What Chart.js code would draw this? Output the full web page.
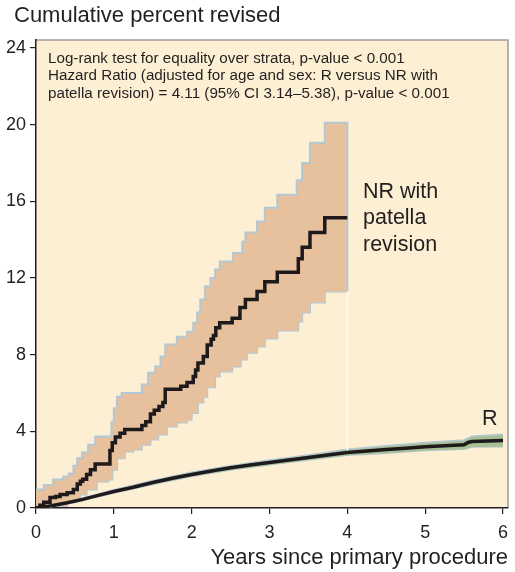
<!DOCTYPE html>
<html>
<head>
<meta charset="utf-8">
<script src="https://cdn.jsdelivr.net/npm/chart.js@4.4.1/dist/chart.umd.min.js"></script>
<style>
  body { margin: 0; background: #ffffff; }
  canvas { display: block; }
</style>
</head>
<body>
<canvas id="grafico" width="515" height="572"></canvas>
<script>
// Valores (años, porcentaje acumulado)
const xTicks = [0, 1, 2, 3, 4, 5, 6];
const yTicks = [0, 4, 8, 12, 16, 20, 24];

const nrEstimate = [[0,0],[0.05,0.15],[0.1,0.3],[0.18,0.55],[0.25,0.6],[0.31,0.7],[0.4,0.8],[0.48,0.96],
  [0.53,1.25],[0.57,1.4],[0.6,1.5],[0.65,1.75],[0.7,2.0],[0.76,2.3],[0.95,3.0],[0.98,3.4],[1.02,3.7],
  [1.08,3.9],[1.14,4.09],[1.36,4.3],[1.41,4.5],[1.47,4.9],[1.52,5.1],[1.58,5.3],[1.63,5.5],[1.66,6.2],
  [1.86,6.35],[1.94,6.55],[2.02,6.86],[2.05,7.2],[2.08,7.57],[2.15,7.9],[2.2,8.5],[2.25,8.8],[2.28,9.0],
  [2.31,9.4],[2.36,9.67],[2.52,9.9],[2.62,10.46],[2.69,10.88],[2.84,11.3],[2.94,11.8],[3.10,12.3],
  [3.37,13.0],[3.42,13.6],[3.52,14.37],[3.71,15.15],[4.0,15.15]];

const nrUpper = [[0,0.96],[0.1,1.2],[0.22,1.49],[0.35,1.64],[0.42,1.8],[0.48,2.2],[0.53,2.6],[0.59,2.9],
  [0.67,3.3],[0.76,3.73],[0.97,4.5],[1.0,5.2],[1.04,5.8],[1.1,6.0],[1.36,6.44],[1.44,7.06],[1.53,7.38],
  [1.6,7.9],[1.66,8.53],[1.81,8.94],[1.94,9.2],[2.02,9.67],[2.07,10.2],[2.11,10.88],[2.17,11.56],
  [2.24,12.0],[2.30,12.44],[2.36,12.86],[2.53,13.3],[2.65,13.9],[2.69,14.37],[2.84,14.95],[2.94,15.67],
  [3.10,16.35],[3.35,17.1],[3.42,18.0],[3.52,19.06],[3.71,20.1],[4.0,20.1],[4.0,11.3]];

const nrLower = [[0,0],[0.2,0.1],[0.4,0.3],[0.5,0.5],[0.57,0.7],[0.65,0.96],[0.78,1.38],[0.93,1.49],
  [0.98,2.0],[1.04,2.6],[1.14,2.95],[1.25,3.05],[1.36,3.3],[1.47,3.57],[1.57,3.83],[1.68,4.25],[1.81,4.46],
  [1.94,4.6],[2.0,4.96],[2.08,5.5],[2.15,5.8],[2.2,6.3],[2.3,6.86],[2.36,7.12],[2.52,7.38],[2.63,7.75],
  [2.71,8.1],[2.84,8.43],[2.94,8.84],[3.10,9.26],[3.37,9.73],[3.42,10.2],[3.52,10.72],[3.71,11.3],[4.0,11.3]];

const rEstimate = [[0,0],[0.2,0.12],[0.4,0.27],[0.6,0.45],[0.8,0.66],[1,0.86],[1.25,1.08],[1.5,1.33],
  [1.75,1.55],[2,1.75],[2.25,1.93],[2.5,2.1],[2.75,2.24],[3,2.37],[3.25,2.5],[3.5,2.63],[3.75,2.77],
  [4,2.9],[4.25,2.98],[4.5,3.05],[4.75,3.12],[5,3.2],[5.25,3.25],[5.5,3.3],[5.55,3.42],[5.6,3.47],
  [5.8,3.5],[6,3.52]];

const rUpper = [[0,0],[0.5,0.4],[1,0.95],[1.5,1.43],[2,1.86],[2.5,2.2],[3,2.5],[3.5,2.77],[4,3.06],
  [4.5,3.25],[5,3.42],[5.5,3.55],[5.6,3.75],[6,3.85]];

const rLower = [[0,0],[0.5,0.28],[1,0.78],[1.5,1.23],[2,1.64],[2.5,1.98],[3,2.25],[3.5,2.5],[4,2.75],
  [4.5,2.86],[5,3.0],[5.5,3.07],[5.6,3.18],[6,3.2]];

const whiteMark = [[4.0,11.3],[4.0,2.9]];

const titleText = 'Cumulative percent revised';
const xTitle = 'Years since primary procedure';
const testLines = [
  'Log-rank test for equality over strata, p-value < 0.001',
  'Hazard Ratio (adjusted for age and sex: R versus NR with',
  'patella revision) = 4.11 (95% CI 3.14\u20135.38), p-value < 0.001'
];
const nrLabel = ['NR with', 'patella', 'revision'];
const rLabel = 'R';

const FONT = "'Liberation Sans', Arial, Helvetica, sans-serif";
const INK = '#231f20';

function puntos(arr) {
  return arr.map(p => ({ x: p[0], y: p[1] }));
}

// Fondo del área y borde gris arriba/derecha
const fondo = {
  id: 'fondo',
  beforeDraw(chart) {
    const { ctx, chartArea: a } = chart;
    ctx.save();
    ctx.fillStyle = '#fdefd3';
    ctx.fillRect(a.left, a.top, a.right - a.left, a.bottom - a.top);
    ctx.strokeStyle = '#9c9c9c';
    ctx.lineWidth = 1.5;
    ctx.beginPath();
    ctx.moveTo(a.left, a.top);
    ctx.lineTo(a.right, a.top);
    ctx.lineTo(a.right, a.bottom);
    ctx.stroke();
    ctx.restore();
  }
};

// Textos: título, prueba estadística y etiquetas de curvas
const textos = {
  id: 'textos',
  afterDraw(chart) {
    const ctx = chart.ctx;
    ctx.save();
    ctx.fillStyle = INK;
    ctx.textBaseline = 'middle';
    ctx.textAlign = 'left';
    ctx.font = '22px ' + FONT;
    ctx.fillText(titleText, 14, 16);
    ctx.font = '15.2px ' + FONT;
    testLines.forEach((t, i) => ctx.fillText(t, 48, 58.5 + i * 17.5));
    ctx.font = '21.5px ' + FONT;
    nrLabel.forEach((t, i) => ctx.fillText(t, 363, 192 + i * 26.5));
    ctx.fillText(rLabel, 482, 419);
    ctx.restore();
  }
};

new Chart(document.getElementById('grafico'), {
  type: 'line',
  data: {
    datasets: [
      { data: puntos(nrEstimate), stepped: true, borderColor: '#1e1a1b', borderWidth: 3.5, order: 1 },
      { data: puntos(rEstimate), borderColor: '#1e1a1b', borderWidth: 3.5, order: 1 },
      { data: puntos(whiteMark), borderColor: '#ffffff', borderWidth: 1.2, order: 2 },
      { data: puntos(nrUpper), stepped: true, borderColor: '#b4c8d4', borderWidth: 2,
        backgroundColor: '#e7c19d', fill: 4, order: 3 },
      { data: puntos(nrLower), stepped: true, borderColor: '#b4c8d4', borderWidth: 2, order: 3 },
      { data: puntos(rUpper), borderColor: '#b4c8d4', borderWidth: 1.5,
        backgroundColor: '#a8bf93', fill: 6, order: 4 },
      { data: puntos(rLower), borderColor: '#b4c8d4', borderWidth: 1.5, order: 4 }
    ]
  },
  options: {
    responsive: false,
    animation: false,
    devicePixelRatio: 1,
    elements: { point: { radius: 0, hoverRadius: 0 }, line: { tension: 0, fill: false } },
    layout: { padding: { top: 40, right: 7, left: 0, bottom: 0 } },
    plugins: { legend: { display: false }, tooltip: { enabled: false } },
    scales: {
      x: {
        type: 'linear', min: 0, max: 6.064,
        afterBuildTicks: s => { s.ticks = xTicks.map(v => ({ value: v })); },
        afterFit: s => { s.height = 64; s.paddingLeft = 0; s.paddingRight = 0; },
        ticks: { font: { size: 18, family: FONT }, color: INK, padding: 8, maxRotation: 0 },
        grid: { drawOnChartArea: false, drawTicks: true, tickLength: 6, color: INK, lineWidth: 1.2 },
        border: { display: true, color: INK, width: 1.5 },
        title: { display: true, text: xTitle, align: 'end', color: INK,
          font: { size: 22, family: FONT }, padding: { top: 0, bottom: 1 } }
      },
      y: {
        type: 'linear', min: 0, max: 24.42,
        afterBuildTicks: s => { s.ticks = yTicks.map(v => ({ value: v })); },
        afterFit: s => { s.width = 36; },
        ticks: { font: { size: 18, family: FONT }, color: INK, padding: 4 },
        grid: { drawOnChartArea: false, drawTicks: true, tickLength: 6, color: INK, lineWidth: 1.2 },
        border: { display: true, color: INK, width: 1.5 }
      }
    }
  },
  plugins: [fondo, textos]
});
</script>
</body>
</html>
